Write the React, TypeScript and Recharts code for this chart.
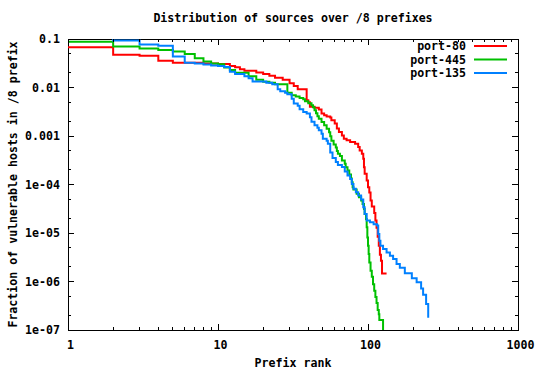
import React from 'react';
import { LineChart, Line, XAxis, YAxis, ReferenceArea } from 'recharts';

// ---------- data ----------
const port80Ranks = [1, 2, 3, 4, 5, 8, 10, 12, 13, 14, 15, 18, 20, 22, 24, 27, 30, 32, 34, 39, 40, 41, 44, 47, 49, 51, 53, 56, 57, 60, 62, 64, 67, 69, 72, 76, 82, 86, 88, 91, 93, 94, 95, 98, 100, 102, 104, 106, 110, 112, 114, 116, 118, 120, 122, 124, 133];
const port80Values = [0.0673, 0.0473, 0.0451, 0.0356, 0.0324, 0.0314, 0.0304, 0.0276, 0.026, 0.0239, 0.0221, 0.0205, 0.0189, 0.0174, 0.0158, 0.0144, 0.0123, 0.0107, 0.00923, 0.00547, 0.00497, 0.00401, 0.00383, 0.00351, 0.0029, 0.00267, 0.00251, 0.0024, 0.00211, 0.0018, 0.00142, 0.00121, 0.00103, 0.000881, 0.000813, 0.00075, 0.000695, 0.000591, 0.000505, 0.000432, 0.00034, 0.000228, 0.000166, 0.000121, 0.0000879, 0.0000682, 0.0000467, 0.0000351, 0.0000257, 0.000018, 0.0000129, 0.00000839, 0.00000547, 0.00000356, 0.00000267, 0.00000146, 0.00000146];

const port445Ranks = [1, 2, 3, 4, 5, 6, 7, 8, 9, 10, 11, 12, 13, 16, 18, 20, 22, 24, 29, 31, 33, 35, 37, 38, 40, 42, 43, 44, 45, 46, 47, 49, 51, 53, 55, 56, 57, 59, 61, 62, 63, 65, 67, 70, 71, 73, 75, 77, 78, 79, 80, 84, 87, 90, 92, 94, 95, 97, 98, 99, 100, 101, 102, 104, 106, 108, 110, 112, 114, 116, 118, 119, 126];
const port445Values = [0.0879, 0.07, 0.0636, 0.0592, 0.0551, 0.049, 0.0399, 0.0342, 0.0311, 0.03, 0.0259, 0.0229, 0.0202, 0.0171, 0.0145, 0.0132, 0.0126, 0.0116, 0.00782, 0.00693, 0.00652, 0.0061, 0.00574, 0.00521, 0.00474, 0.00431, 0.00392, 0.0034, 0.00294, 0.00255, 0.00226, 0.00195, 0.00166, 0.00141, 0.00119, 0.000984, 0.000794, 0.000671, 0.000582, 0.000493, 0.000432, 0.000389, 0.000313, 0.000268, 0.000228, 0.000195, 0.000161, 0.000133, 0.000111, 0.0000879, 0.0000787, 0.0000641, 0.0000546, 0.0000467, 0.0000394, 0.0000314, 0.0000247, 0.0000195, 0.0000131, 0.00000811, 0.00000547, 0.00000368, 0.00000247, 0.00000166, 0.00000125, 0.000000881, 0.000000641, 0.000000481, 0.000000361, 0.000000259, 0.000000211, 0.000000161, 0.00000005];

const port135Ranks = [1, 2, 3, 4, 5, 6, 7, 8, 9, 10, 11, 12, 13, 15, 16, 17, 21, 23, 25, 26, 28, 29, 31, 32, 34, 35, 37, 39, 41, 42, 44, 46, 47, 49, 50, 53, 54, 56, 58, 61, 63, 67, 70, 73, 76, 78, 80, 83, 86, 90, 93, 95, 98, 103, 109, 115, 117, 119, 121, 126, 133, 140, 147, 155, 163, 176, 196, 211, 226, 233, 244, 252];
const port135Values = [0.12, 0.0931, 0.0769, 0.0723, 0.0435, 0.0322, 0.0311, 0.0297, 0.0283, 0.0276, 0.0264, 0.021, 0.0189, 0.017, 0.0156, 0.0133, 0.0126, 0.0116, 0.00923, 0.00839, 0.00782, 0.00728, 0.00587, 0.00468, 0.00421, 0.00356, 0.00313, 0.0029, 0.00243, 0.00196, 0.00166, 0.00148, 0.00131, 0.00111, 0.000881, 0.000794, 0.000689, 0.000459, 0.000353, 0.000292, 0.000253, 0.00023, 0.000186, 0.000153, 0.00013, 0.000103, 0.0000815, 0.0000692, 0.0000592, 0.0000489, 0.0000339, 0.0000247, 0.000018, 0.0000166, 0.0000152, 0.0000142, 0.00000955, 0.00000693, 0.00000547, 0.00000467, 0.00000397, 0.0000034, 0.0000029, 0.00000229, 0.00000191, 0.00000148, 0.00000116, 0.00000096, 0.000000721, 0.00000053, 0.000000345, 0.000000179];

const seriesNames = ['port-80', 'port-445', 'port-135'];
const seriesColors = ['#ff0000', '#00c000', '#0080ff'];

const xTicks = [1, 2, 3, 4, 5, 6, 7, 8, 9, 10, 20, 30, 40, 50, 60, 70, 80, 90, 100, 200, 300, 400, 500, 600, 700, 800, 900, 1000];
const xMajorTicks = [1, 10, 100, 1000];
const xTickLabels = ['1', '10', '100', '1000'];

const yTicks = [1e-7, 2e-7, 5e-7, 1e-6, 2e-6, 5e-6, 1e-5, 2e-5, 5e-5, 1e-4, 2e-4, 5e-4, 1e-3, 2e-3, 5e-3, 1e-2, 2e-2, 5e-2, 0.1];
const yMajorTicks = [1e-7, 1e-6, 1e-5, 1e-4, 1e-3, 1e-2, 0.1];
const yTickLabels = ['1e-07', '1e-06', '1e-05', '1e-04', '0.001', '0.01', '0.1'];

const title = 'Distribution of sources over /8 prefixes';
const xTitle = 'Prefix rank';
const yTitle = 'Fraction of vulnerable hosts in /8 prefix';

// ---------- layout ----------
const W = 540;
const H = 370;
const MARGIN = { top: 39, right: 22, bottom: 0, left: 0 };
const Y_AXIS_W = 68;
const X_AXIS_H = 40;
const PLOT_TOP = MARGIN.top;
const PLOT_LEFT = MARGIN.left + Y_AXIS_W;
const PLOT_RIGHT = W - MARGIN.right;
const PLOT_BOTTOM = H - MARGIN.bottom - X_AXIS_H;
const FONT = '"DejaVu Sans Mono", "Liberation Mono", monospace';
const FS = 11.6;
const MAJOR_LEN = 6;
const MINOR_LEN = 3;

const toData = (ranks: number[], values: number[]) => ranks.map((r, i) => ({ rank: r, v: values[i] }));
const seriesData = [toData(port80Ranks, port80Values), toData(port445Ranks, port445Values), toData(port135Ranks, port135Values)];

const majorIndex = (v: number, majors: number[]) =>
  majors.findIndex((m) => Math.abs(Math.log10(v) - Math.log10(m)) < 1e-6);

const XTick = (props: any) => {
  const { x, y, payload } = props;
  const idx = majorIndex(payload.value, xMajorTicks);
  const len = idx >= 0 ? MAJOR_LEN : MINOR_LEN;
  return (
    <g>
      <line x1={x} x2={x} y1={y} y2={y - len} stroke="#000" strokeWidth={1} shapeRendering="crispEdges" />
      <line x1={x} x2={x} y1={PLOT_TOP} y2={PLOT_TOP + len} stroke="#000" strokeWidth={1} shapeRendering="crispEdges" />
      {idx >= 0 && (
        <text x={x + 2.5} y={y + 19} textAnchor="middle" fontFamily={FONT} fontSize={FS} fontWeight="bold" fill="#000">
          {xTickLabels[idx]}
        </text>
      )}
    </g>
  );
};

const YTick = (props: any) => {
  const { x, y, payload } = props;
  const idx = majorIndex(payload.value, yMajorTicks);
  const len = idx >= 0 ? MAJOR_LEN : MINOR_LEN;
  return (
    <g>
      <line x1={x} x2={x + len} y1={y} y2={y} stroke="#000" strokeWidth={1} shapeRendering="crispEdges" />
      <line x1={PLOT_RIGHT} x2={PLOT_RIGHT - len} y1={y} y2={y} stroke="#000" strokeWidth={1} shapeRendering="crispEdges" />
      {idx >= 0 && (
        <text x={x - 8} y={y + 4} textAnchor="end" fontFamily={FONT} fontSize={FS} fontWeight="bold" fill="#000">
          {yTickLabels[idx]}
        </text>
      )}
    </g>
  );
};

export default function App() {
  const cx = (PLOT_LEFT + PLOT_RIGHT) / 2;
  const cy = (PLOT_TOP + PLOT_BOTTOM) / 2;
  return (
    <div style={{ position: 'absolute', left: 0, top: 0, width: W, height: H, background: '#fff' }}>
      <LineChart width={W} height={H} margin={MARGIN}>
        <XAxis
          dataKey="rank"
          type="number"
          scale="log"
          domain={[1, 1000]}
          allowDataOverflow
          ticks={xTicks}
          interval={0}
          tickSize={0}
          tickMargin={0}
          tickLine={false}
          axisLine={false}
          height={X_AXIS_H}
          tick={<XTick />}
        />
        <YAxis
          type="number"
          scale="log"
          domain={[1e-7, 0.1]}
          allowDataOverflow
          ticks={yTicks}
          interval={0}
          tickSize={0}
          tickMargin={0}
          tickLine={false}
          axisLine={false}
          width={Y_AXIS_W}
          tick={<YTick />}
        />
        <ReferenceArea x1={1} x2={1000} y1={1e-7} y2={0.1} fill="none" fillOpacity={0} stroke="#000" strokeWidth={1} shapeRendering="crispEdges" />
        {seriesData.map((d, i) => (
          <Line
            key={seriesNames[i]}
            data={d}
            dataKey="v"
            name={seriesNames[i]}
            type="stepAfter"
            stroke={seriesColors[i]}
            strokeWidth={2}
            dot={false}
            activeDot={false}
            isAnimationActive={false}
          />
        ))}
      </LineChart>
      <svg width={W} height={H} style={{ position: 'absolute', left: 0, top: 0, pointerEvents: 'none' }}>
        <text x={cx} y={22} textAnchor="middle" fontFamily={FONT} fontSize={FS} fontWeight="bold" fill="#000">{title}</text>
        <text x={cx} y={367} textAnchor="middle" fontFamily={FONT} fontSize={FS} fontWeight="bold" fill="#000">{xTitle}</text>
        <text x={17} y={cy} transform={`rotate(-90 17 ${cy})`} textAnchor="middle" fontFamily={FONT} fontSize={FS} fontWeight="bold" fill="#000">{yTitle}</text>
        {seriesNames.map((n, i) => {
          const ry = 46 + i * 13.5;
          return (
            <g key={n}>
              <text x={466} y={ry + 4} textAnchor="end" fontFamily={FONT} fontSize={FS} fontWeight="bold" fill="#000">{n}</text>
              <line x1={474} x2={507} y1={ry} y2={ry} stroke={seriesColors[i]} strokeWidth={2} />
            </g>
          );
        })}
      </svg>
    </div>
  );
}
